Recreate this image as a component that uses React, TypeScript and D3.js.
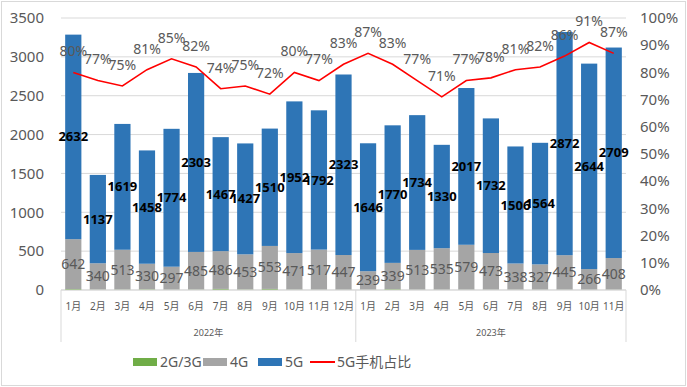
import React from 'react';
import * as d3 from 'd3';

// chart values
const months = ['1月', '2月', '3月', '4月', '5月', '6月', '7月', '8月', '9月', '10月', '11月', '12月',
  '1月', '2月', '3月', '4月', '5月', '6月', '7月', '8月', '9月', '10月', '11月'];
const years = ['2022年', '2023年'];
const yearSpan = [12, 11];
const g23 = [12, 4, 5, 8, 3, 5, 14, 6, 14, 4, 3, 3, 3, 10, 3, 3, 3, 3, 3, 3, 3, 3, 3];
const g4 = [642, 340, 513, 330, 297, 485, 486, 453, 553, 471, 517, 447,
  239, 339, 513, 535, 579, 473, 338, 327, 445, 266, 408];
const g5 = [2632, 1137, 1619, 1458, 1774, 2303, 1467, 1427, 1510, 1952, 1792, 2323,
  1646, 1770, 1734, 1330, 2017, 1732, 1506, 1564, 2872, 2644, 2709];
const share = [80, 77, 75, 81, 85, 82, 74, 75, 72, 80, 77, 83,
  87, 83, 77, 71, 77, 78, 81, 82, 86, 91, 87];
const leftTicks = [0, 500, 1000, 1500, 2000, 2500, 3000, 3500];
const rightTicks = [0, 10, 20, 30, 40, 50, 60, 70, 80, 90, 100];
const legendItems = [
  { name: '2G/3G', kind: 'rect', color: '#70ad47' },
  { name: '4G', kind: 'rect', color: '#a5a5a5' },
  { name: '5G', kind: 'rect', color: '#2e75b6' },
  { name: '5G手机占比', kind: 'line', color: '#ff0000' },
];

const W = 687;
const H = 387;
const font = '"Noto Sans", "Noto Sans CJK SC", sans-serif';

export default function App() {
  React.useEffect(() => {
    document.body.style.margin = '0';
  }, []);

  const left = 61, right = 626, top = 18, bottom = 290;

  const x = d3.scaleBand<number>()
    .domain(d3.range(months.length))
    .range([left, right])
    .paddingInner(0.34)
    .paddingOuter(0.17);
  const step = x.step();
  const y = d3.scaleLinear().domain([0, 3500]).range([bottom, top]);
  const yr = d3.scaleLinear().domain([0, 100]).range([bottom, top]);

  const line = d3.line<number>()
    .x((d, i) => (x(i) as number) + x.bandwidth() / 2)
    .y((d) => yr(d));

  // year separators
  let acc = 0;
  const yearBlocks = years.map((name, i) => {
    const x0 = left + acc * step;
    acc += yearSpan[i];
    const x1 = left + acc * step;
    return { name, x0, x1 };
  });

  const legendX = [133, 203, 258, 310];

  return (
    <svg width={W} height={H} style={{ display: 'block', fontFamily: font }}>
      <rect x={1.5} y={1.5} width={W - 3} height={H - 3} fill="#fff" stroke="#d9d9d9" />

      {/* gridlines */}
      {leftTicks.map((t) => (
        <line key={t} x1={left} x2={right} y1={y(t)} y2={y(t)} stroke="#d9d9d9" strokeWidth={1} />
      ))}

      {/* left axis */}
      {leftTicks.map((t) => (
        <text key={t} x={44} y={y(t)} dy="0.35em" textAnchor="end" fontSize={15} fill="#595959">{t}</text>
      ))}
      {/* right axis */}
      {rightTicks.map((t) => (
        <text key={t} x={640} y={yr(t)} dy="0.35em" textAnchor="start" fontSize={15} fill="#595959">{t}%</text>
      ))}

      {/* bars */}
      {months.map((m, i) => {
        const bx = x(i) as number;
        const bw = x.bandwidth();
        const a = g23[i], b = g4[i], c = g5[i];
        return (
          <g key={i}>
            <rect x={bx} width={bw} y={y(a)} height={y(0) - y(a)} fill="#70ad47" />
            <rect x={bx} width={bw} y={y(a + b)} height={y(a) - y(a + b)} fill="#a5a5a5" />
            <rect x={bx} width={bw} y={y(a + b + c)} height={y(a + b) - y(a + b + c)} fill="#2e75b6" />
          </g>
        );
      })}

      {/* category axis */}
      <line x1={left} x2={right} y1={bottom} y2={bottom} stroke="#d9d9d9" />
      {yearBlocks.map((b, i) => (
        <g key={b.name}>
          <line x1={b.x0} x2={b.x0} y1={bottom} y2={342} stroke="#d9d9d9" />
          {i === yearBlocks.length - 1 && (
            <line x1={b.x1} x2={b.x1} y1={bottom} y2={342} stroke="#d9d9d9" />
          )}
          <text x={(b.x0 + b.x1) / 2} y={333} dy="0.35em" textAnchor="middle" fontSize={9} fill="#595959">{b.name}</text>
        </g>
      ))}
      {months.map((m, i) => (
        <text key={i} x={(x(i) as number) + x.bandwidth() / 2} y={306} dy="0.35em" textAnchor="middle" fontSize={10} fill="#595959">{m}</text>
      ))}

      {/* bar labels */}
      {months.map((m, i) => {
        const cx = (x(i) as number) + x.bandwidth() / 2;
        const a = g23[i], b = g4[i], c = g5[i];
        return (
          <g key={i}>
            <text x={cx} y={y(a + b / 2)} dy="0.35em" textAnchor="middle" fontSize={14} fill="#595959">{b}</text>
            <text x={cx} y={y(a + b + c / 2)} dy="0.35em" textAnchor="middle" fontSize={13} fontWeight="bold" fill="#000">{c}</text>
          </g>
        );
      })}

      {/* share line */}
      <path d={line(share) as string} fill="none" stroke="#ff0000" strokeWidth={1.6} />
      {share.map((s, i) => (
        <text key={i} x={(x(i) as number) + x.bandwidth() / 2} y={yr(s) - 21} dy="0.35em" textAnchor="middle" fontSize={14} fill="#595959">{s}%</text>
      ))}

      {/* legend */}
      {legendItems.map((it, i) => (
        <g key={it.name} transform={`translate(${legendX[i]},362)`}>
          {it.kind === 'rect'
            ? <rect x={0} y={-4} width={24} height={8} fill={it.color} />
            : <line x1={0} x2={25} y1={0} y2={0} stroke={it.color} strokeWidth={2} />}
          <text x={27} y={0} dy="0.35em" fontSize={14} fill="#595959">{it.name}</text>
        </g>
      ))}
    </svg>
  );
}
